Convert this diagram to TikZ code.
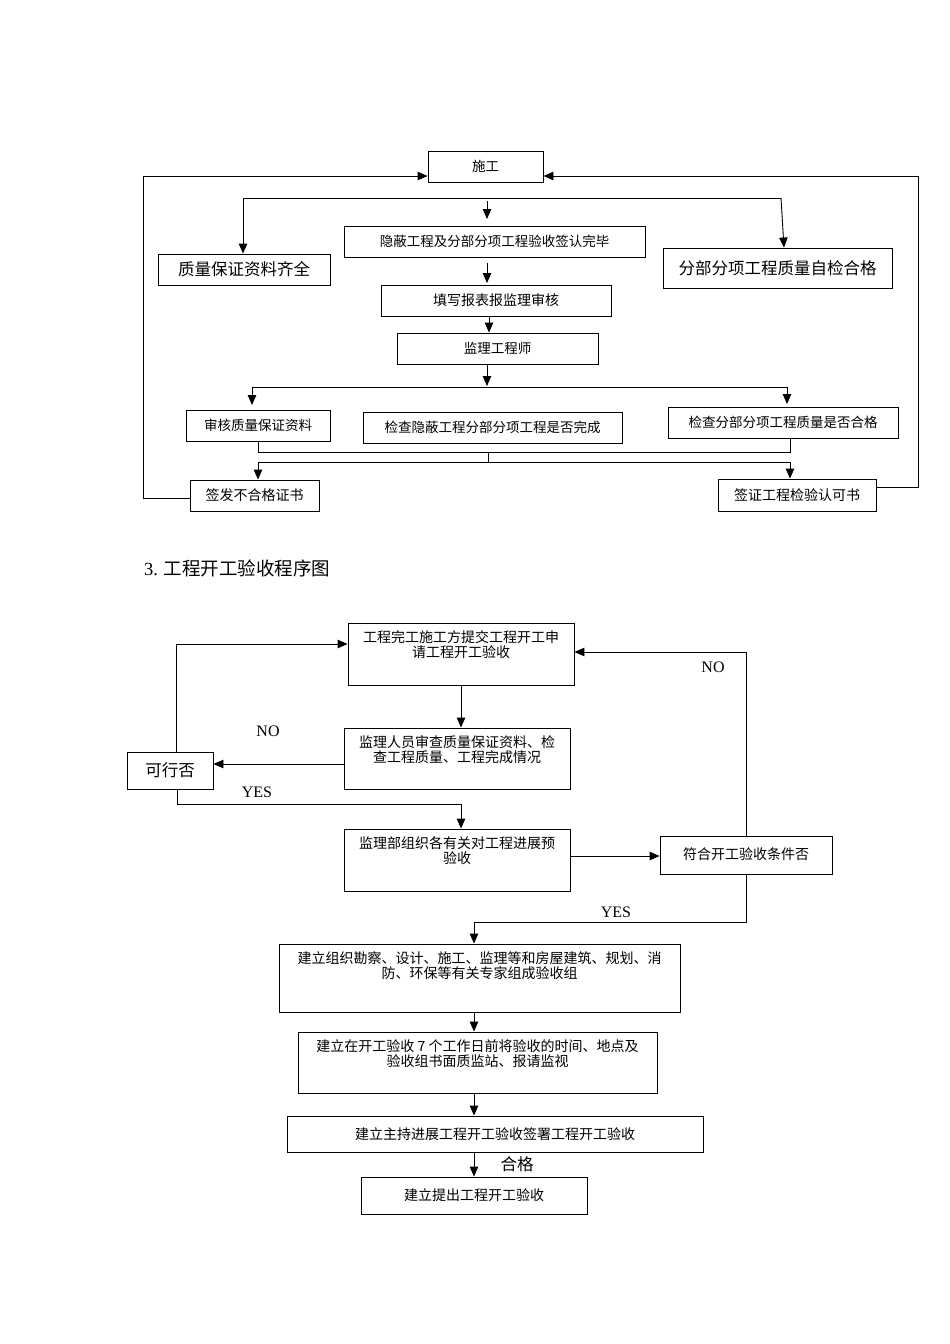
\documentclass[tikz,border=0pt]{standalone}
\usepackage{fontspec}
\setmainfont{Noto Sans CJK SC}
\newfontfamily\latn{Liberation Serif}
\usetikzlibrary{arrows.meta}
\newcommand\topbox[3]{\parbox[c][#2][t]{#1}{\centering\vspace*{8pt}#3}}
\begin{document}
\begin{tikzpicture}[x=1pt,y=-1pt,
  every node/.style={inner sep=0pt},
  ln/.style={line width=0.9pt},
  bx/.style={draw,ln,minimum height=31pt,font=\fontsize{13.5}{15}\selectfont},
  fs/.style={font=\fontsize{14}{15}\selectfont},
  big/.style={font=\fontsize{16.5}{18}\selectfont},
  tb/.style={draw,ln,font=\fontsize{14}{15}\selectfont},
  arr/.style={ln,-{Triangle[length=10pt,width=8.5pt]}},
  lab/.style={font=\latn\fontsize{16}{18}\selectfont},
]
\useasboundingbox (0,0) rectangle (950,1344);

% ---------- upper diagram ----------
\node[bx,minimum width=115pt] (sg) at (485.5,166.5) {施工};
\node[bx,minimum width=301pt] (yb) at (494.5,241.5) {隐蔽工程及分部分项工程验收签认完毕};
\node[bx,big,minimum width=172pt] (zl) at (244,269.5) {质量保证资料齐全};
\node[bx,big,minimum width=229pt,minimum height=40pt] (zr) at (777.5,268) {分部分项工程质量自检合格};
\node[bx,fs,minimum width=230pt] (tx) at (496,300.5) {填写报表报监理审核};
\node[bx,minimum width=201pt] (jl) at (497.5,348.5) {监理工程师};
\node[bx,minimum width=144pt] (sh) at (258,425.5) {审核质量保证资料};
\node[bx,minimum width=259pt] (jc1) at (492.5,427.5) {检查隐蔽工程分部分项工程是否完成};
\node[bx,minimum width=230pt] (jc2) at (783,422.5) {检查分部分项工程质量是否合格};
\node[bx,fs,minimum width=129pt] (qf) at (254.5,495.5) {签发不合格证书};
\node[bx,fs,minimum width=158pt,minimum height=32pt] (qz) at (797,495) {签证工程检验认可书};

\coordinate (f1) at (243,198);
\coordinate (f2) at (781,198);
\coordinate (f3) at (784,248);
\draw[ln] (f1) -- (f2);
\draw[arr] (f1) -- (zl.north -| f1);
\draw[arr] (f2) -- (zr.north -| f3);
\coordinate (s1) at (487,201);
\coordinate (s2) at (487,219);
\draw[arr] (s1) -- (s2);
\coordinate (s3) at (487,263);
\coordinate (s4) at (487,283);
\draw[arr] (s3) -- (s4);
\coordinate (xt) at (489,0);
\draw[arr] (tx.south -| xt) -- (jl.north -| xt);
\coordinate (s5) at (487,0);
\coordinate (s6) at (487,386);
\draw[arr] (jl.south -| s5) -- (s6);
\coordinate (g1) at (252,387);
\coordinate (g2) at (787,387);
\coordinate (g3) at (252,405);
\coordinate (g4) at (787,404);
\draw[ln] (g1) -- (g2);
\draw[arr] (g1) -- (g3);
\draw[arr] (g2) -- (g4);
\coordinate (m1) at (258,452);
\coordinate (m2) at (790,452);
\draw[ln] (sh.south -| m1) -- (m1) -- (m2) -- (jc2.south -| m2);
\coordinate (m3) at (488,452);
\coordinate (m4) at (488,462);
\draw[ln] (m3) -- (m4);
\coordinate (m5) at (258,462);
\coordinate (m6) at (790,462);
\draw[ln] (m5) -- (m6);
\draw[arr] (m5) -- (qf.north -| m5);
\draw[arr] (m6) -- (qz.north -| m6);
\coordinate (L1) at (143,176);
\coordinate (L2) at (143,498);
\draw[arr] (qf.west |- L2) -- (L2) -- (L1) -- (sg.west |- L1);
\coordinate (R1) at (918,176);
\coordinate (R2) at (918,487);
\draw[arr] (qz.east |- R2) -- (R2) -- (R1) -- (sg.east |- R1);

% ---------- heading ----------
\node[anchor=west,font=\fontsize{18.5}{20}\selectfont] (ttl) at (144,568) {{\latn 3.} 工程开工验收程序图};

% ---------- lower diagram ----------
\node[tb] (A) at (461,654) {\topbox{226pt}{62pt}{工程完工施工方提交工程开工申\\请工程开工验收}};
\node[tb] (B) at (457,758.5) {\topbox{226pt}{61pt}{监理人员审查质量保证资料、检\\查工程质量、工程完成情况}};
\node[draw,ln,big,minimum width=86pt,minimum height=37pt] (K) at (170,770.5) {可行否};
\node[tb] (C) at (457,860) {\topbox{226pt}{62pt}{监理部组织各有关对工程进展预\\验收}};
\node[draw,ln,fs,minimum width=172pt,minimum height=38pt] (D) at (746,855) {\raisebox{3pt}{符合开工验收条件否}};
\node[tb] (E) at (479.5,978) {\topbox{401pt}{68pt}{建立组织勘察、设计、施工、监理等和房屋建筑、规划、消\\防、环保等有关专家组成验收组}};
\node[tb] (F) at (477.5,1062.5) {\topbox{359pt}{61pt}{建立在开工验收 7 个工作日前将验收的时间、地点及\\验收组书面质监站、报请监视}};
\node[draw,ln,fs,minimum width=416pt,minimum height=36pt] (G) at (495,1134) {建立主持进展工程开工验收签署工程开工验收};
\node[draw,ln,fs,minimum width=226pt,minimum height=37pt] (H) at (474,1195.5) {建立提出工程开工验收};

\coordinate (xa) at (461,0);
\draw[arr] (A.south -| xa) -- (B.north -| xa);
\coordinate (yk) at (0,764);
\draw[arr] (B.west |- yk) -- (K.east |- yk);
\coordinate (n1) at (176,644);
\draw[arr] (K.north -| n1) -- (n1) -- (A.west |- n1);
\coordinate (n2) at (177,804);
\coordinate (n3) at (461,804);
\draw[arr] (K.south -| n2) -- (n2) -- (n3) -- (C.north -| n3);
\coordinate (yc) at (0,856);
\draw[arr] (C.east |- yc) -- (D.west |- yc);
\coordinate (n4) at (746,652);
\draw[arr] (D.north) -- (n4) -- (A.east |- n4);
\coordinate (n5) at (746,922);
\coordinate (n6) at (474,922);
\draw[arr] (D.south) -- (n5) -- (n6) -- (E.north -| n6);
\coordinate (xc) at (474,0);
\draw[arr] (E.south -| xc) -- (F.north -| xc);
\draw[arr] (F.south -| xc) -- (G.north -| xc);
\draw[arr] (G.south -| xc) -- (H.north -| xc);

\node[lab] (no1) at (268,731) {NO};
\node[lab] (yes1) at (257,792) {YES};
\node[lab] (no2) at (713,667) {NO};
\node[lab] (yes2) at (616,912) {YES};
\node[big] (hg) at (517,1164) {合格};
\end{tikzpicture}
\end{document}
